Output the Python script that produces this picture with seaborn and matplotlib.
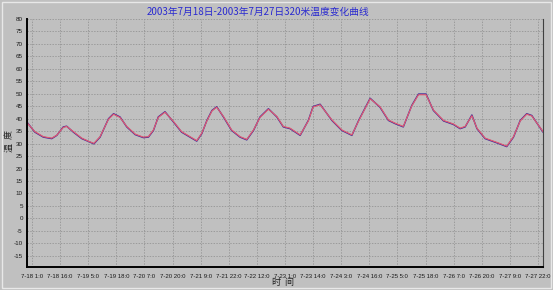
import matplotlib
matplotlib.use("Agg")
import matplotlib.pyplot as plt
import seaborn as sns
import pandas as pd

# ---- data (x in tick-label units) ----
tick_labels = ["7-18 1:0", "7-18 16:0", "7-19 5:0", "7-19 18:0", "7-20 7:0", "7-20 20:0",
               "7-21 9:0", "7-21 22:0", "7-22 12:0", "7-23 1:0", "7-23 14:0", "7-24 3:0",
               "7-24 16:0", "7-25 5:0", "7-25 18:0", "7-26 7:0", "7-26 20:0", "7-27 9:0",
               "7-27 22:0"]
pos = [-0.18, 0.1, 0.4, 0.7, 0.88, 1.11, 1.23, 1.47, 1.77, 2.0, 2.2, 2.42, 2.72, 2.9,
       3.13, 3.37, 3.67, 3.96, 4.14, 4.32, 4.49, 4.73, 5.03, 5.32, 5.62, 5.86, 6.04,
       6.22, 6.4, 6.57, 6.81, 7.1, 7.4, 7.64, 7.88, 8.11, 8.41, 8.71, 8.94, 9.18, 9.54,
       9.83, 10.0, 10.25, 10.67, 11.02, 11.38, 11.62, 12.03, 12.38, 12.68, 12.92, 13.21,
       13.51, 13.75, 14.02, 14.28, 14.64, 14.99, 15.23, 15.41, 15.65, 15.83, 16.12,
       16.54, 16.89, 17.13, 17.37, 17.6, 17.78, 18.14, 18.18]
temp_measured = [38.6, 34.6, 32.6, 32.0, 33.3, 36.7, 37.0, 34.6, 32.0, 30.9, 29.9, 32.6,
                 40.0, 42.0, 40.7, 36.7, 33.6, 32.4, 32.6, 35.3, 40.7, 42.8, 38.7, 34.6,
                 32.6, 31.0, 34.0, 39.3, 43.3, 44.8, 40.7, 35.3, 32.6, 31.5, 35.3, 40.7,
                 44.0, 40.7, 36.7, 36.0, 33.3, 39.3, 44.9, 45.8, 39.3, 35.3, 33.3, 39.3,
                 48.2, 44.6, 39.3, 38.0, 36.7, 45.3, 49.9, 49.9, 43.3, 39.1, 37.7, 36.0,
                 36.7, 41.5, 36.0, 32.0, 30.3, 28.8, 32.6, 39.3, 42.0, 41.3, 35.3, 34.6]
temp_smooth = [38.4, 34.8, 32.8, 32.2, 33.4, 36.5, 36.9, 34.8, 32.2, 31.0, 30.1, 32.8,
               39.8, 41.8, 40.5, 36.9, 33.8, 32.6, 32.8, 35.5, 40.5, 42.6, 38.9, 34.8,
               32.8, 31.2, 34.2, 39.1, 43.1, 44.6, 40.9, 35.5, 32.8, 31.7, 35.5, 40.5,
               43.8, 40.9, 36.9, 36.2, 33.5, 39.1, 44.7, 45.6, 39.5, 35.5, 33.5, 39.1,
               48.0, 44.8, 39.5, 38.2, 36.9, 45.1, 49.6, 49.6, 43.5, 39.3, 37.9, 36.2,
               36.9, 41.2, 36.2, 32.2, 30.5, 29.0, 32.8, 39.1, 41.8, 41.1, 35.5, 34.8]
yticks = list(range(-15, 81, 5))

df = pd.DataFrame({"pos": pos, "measured": temp_measured, "smooth": temp_smooth})

sns.set_style("white")
plt.rcParams['font.family'] = ['Liberation Sans', 'DejaVu Sans', 'Noto Sans CJK SC']
cjk = ['Noto Sans CJK SC', 'DejaVu Sans']

bg = "#c0c0c0"
fig = plt.figure(figsize=(5.53, 2.9), dpi=100, facecolor=bg)
ax = fig.add_axes([27/553, 1-267/290, (543-27)/553, (267-19)/290])
ax.set_facecolor(bg)

sns.lineplot(data=df, x="pos", y="measured", ax=ax, color="#3c2a9a", lw=1.0,
             estimator=None, sort=False)
sns.lineplot(data=df, x="pos", y="smooth", ax=ax, color="#e85a6e", lw=0.8,
             estimator=None, sort=False)

ax.set_xlim(-0.18, 18.18)
ax.set_ylim(-19.5, 80)
ax.set_xticks(range(len(tick_labels)))
ax.set_xticklabels(tick_labels, fontsize=4.3, color="#1a1a1a")
ax.set_yticks(yticks)
ax.set_yticklabels([str(v) for v in yticks], fontsize=4.5, color="#1a1a1a")
ax.tick_params(axis="x", length=0, pad=5)
ax.tick_params(axis="y", length=0, pad=3)

ax.grid(True, color="#8c8c8c", linestyle=(0, (2, 2)), linewidth=0.5)
for s in ["left", "bottom"]:
    ax.spines[s].set_color("black")
    ax.spines[s].set_linewidth(1.4)
ax.spines["top"].set_visible(False)
ax.spines["right"].set_color("#404040")
ax.spines["right"].set_linewidth(0.8)

ax.set_xlabel("")
ax.set_ylabel("")
fig.text(283/553, 1-283/290, "时  间", ha="center", va="center", fontsize=6.5,
         family=cjk, color="#222222")
fig.text(9/553, 1-141/290, "温  度", ha="center", va="center", fontsize=6.5,
         family=cjk, rotation=90, color="#222222")
fig.text(258/553, 1-12/290, "2003年7月18日-2003年7月27日320米温度变化曲线", ha="center",
         va="center", fontsize=7, family=cjk, color="#2a2ad0")

# outer frame
fig.add_artist(plt.Rectangle((0.004, 0.006), 0.992, 0.988, transform=fig.transFigure,
                             fill=False, edgecolor="#e8e8e8", lw=1.0))

fig.savefig("out.png", dpi=100, facecolor=bg)
